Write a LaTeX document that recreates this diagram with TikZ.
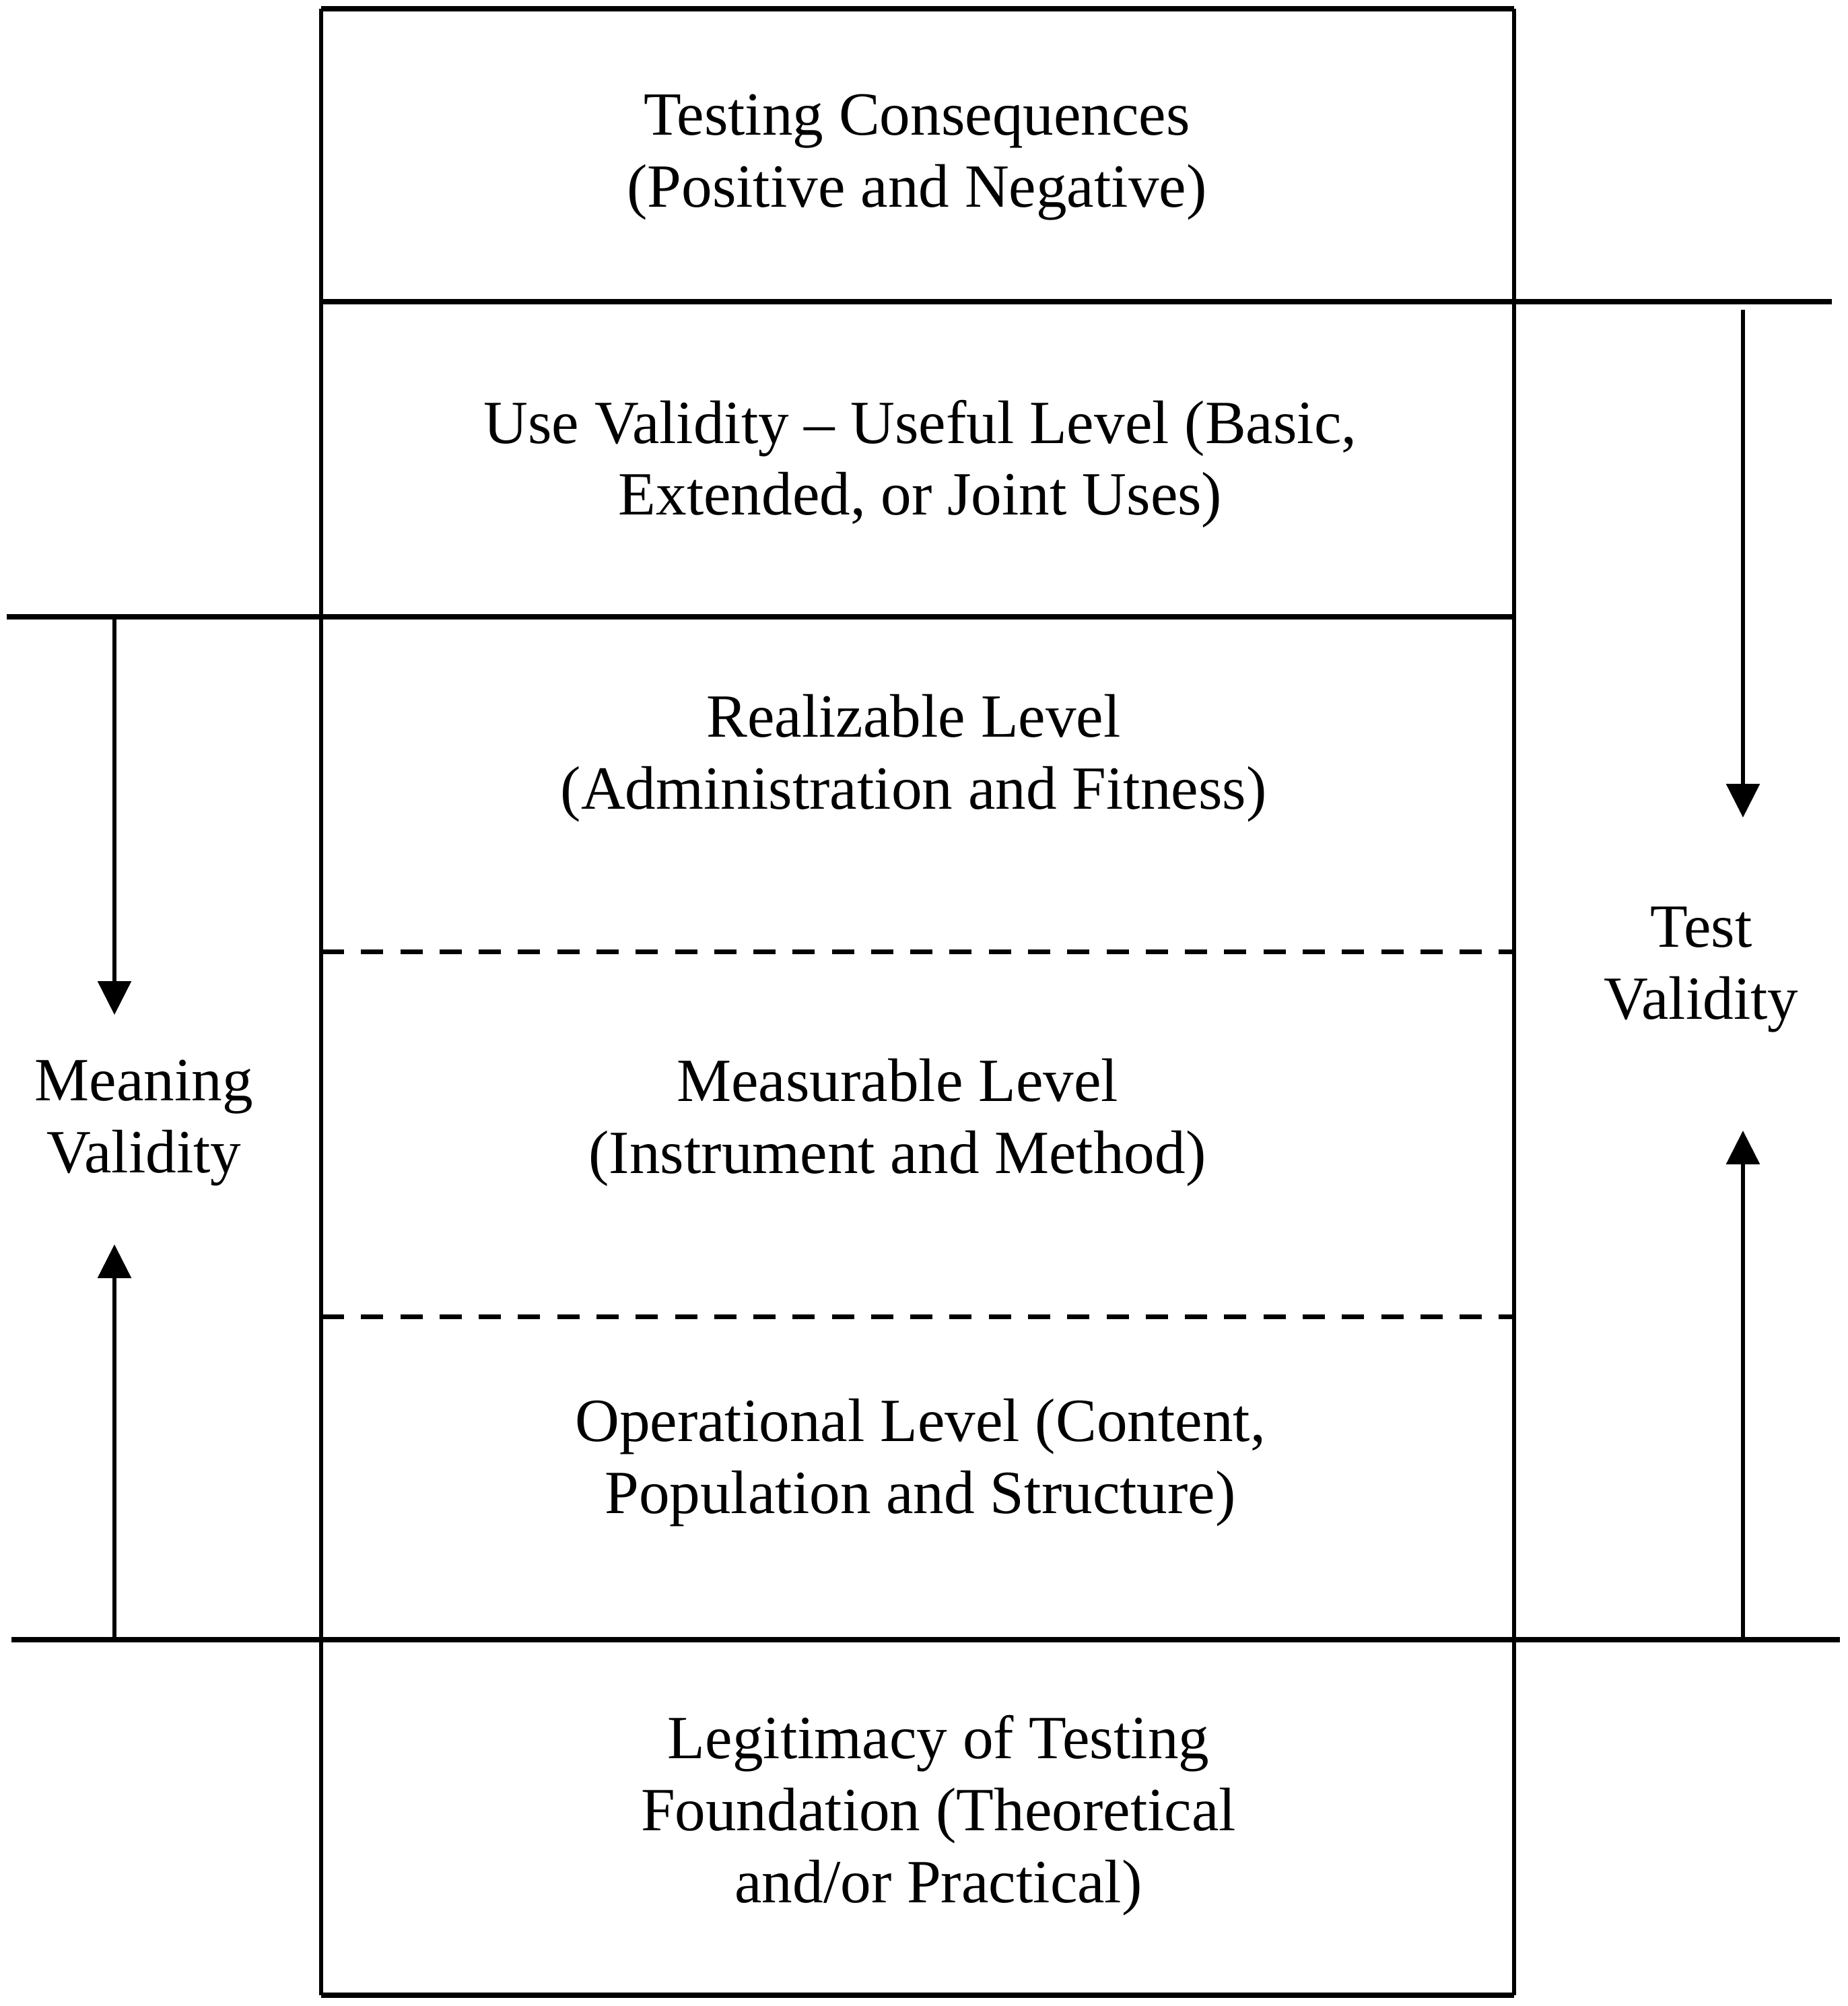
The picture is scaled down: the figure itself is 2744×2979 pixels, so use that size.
\documentclass[tikz,border=0pt]{standalone}
\usepackage{fontspec}
\setmainfont{Liberation Serif}
\usetikzlibrary{arrows.meta}
\begin{document}
\begin{tikzpicture}[x=0.25pt,y=-0.25pt,
  hline/.style={line width=2pt},
  vline/.style={line width=1.5pt},
  dline/.style={line width=1.75pt, dash pattern=on 8.25pt off 6.32pt},
  arr/.style={line width=1.5pt, -{Triangle[length=12.5pt,width=12.25pt]}},
  lbl/.style={font=\fontsize{22.8}{26.7}\selectfont, align=center, inner sep=0pt}]
\useasboundingbox (0,0) rectangle (2744,2979);
% box sides
\draw[vline] (477,13) -- (477,2963);
\draw[vline] (2249,13) -- (2249,2963);
\draw[hline] (477,13) -- (2249,13);
\draw[hline] (477,2963) -- (2249,2963);
% separators
\draw[hline] (477,448) -- (2721,448);
\draw[hline] (10,916) -- (2249,916);
\draw[hline] (17,2435) -- (2733,2435);
\draw[dline] (478,1413) -- (2249,1413);
\draw[dline] (478,1955) -- (2249,1955);
% arrow end points
\coordinate (mvTop) at (170,916);
\coordinate (mvDown) at (170,1507);
\coordinate (mvUp) at (170,1848);
\coordinate (mvBase) at (170,2435);
\coordinate (tvTop) at (2589,460);
\coordinate (tvDown) at (2589,1214);
\coordinate (tvUp) at (2589,1679);
\coordinate (tvBase) at (2589,2435);
\draw[arr] (mvTop) -- (mvDown);
\draw[arr] (mvBase) -- (mvUp);
\draw[arr] (tvTop) -- (tvDown);
\draw[arr] (tvBase) -- (tvUp);
% labels
\node[lbl] (tc) at (1362,234) {Testing Consequences\\(Positive and Negative)};
\node[lbl] (uv) at (1367,689) {Use Validity – Useful Level (Basic,\\Extended, or Joint Uses)};
\node[lbl] (rl) at (1357,1126) {Realizable Level\\(Administration and Fitness)};
\node[lbl] (ml) at (1333,1667) {Measurable Level\\(Instrument and Method)};
\node[lbl] (ol) at (1367,2172) {Operational Level (Content,\\Population and Structure)};
\node[lbl] (lg) at (1394,2696) {Legitimacy of Testing\\Foundation (Theoretical\\and/or Practical)};
\node[lbl] (mv) at (214,1668) {Meaning\\Validity};
\node[lbl] (tv) at (2527,1440) {Test\\Validity};
\end{tikzpicture}
\end{document}
